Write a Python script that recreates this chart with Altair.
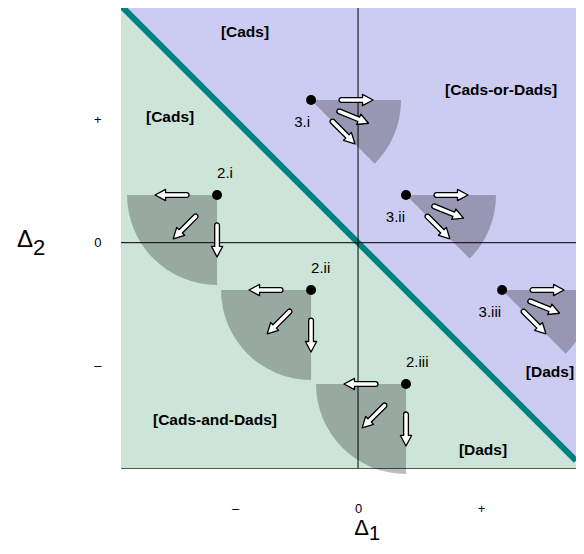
import altair as alt
import pandas as pd
import numpy as np

# ---- data (data units: tick "+" = 1) ----
x_min, x_max = -1.927, 1.772
y_min, y_max = -1.832, 1.908

tick_values = [-1, 0, 1]
tick_labels = ["–", "0", "+"]

point_labels = ["2.i", "2.ii", "2.iii", "3.i", "3.ii", "3.iii"]
point_group = ["2", "2", "2", "3", "3", "3"]
point_x = [-1.146, -0.382, 0.390, -0.382, 0.390, 1.171]
point_y = [0.388, -0.385, -1.149, 1.160, 0.388, -0.385]

# wedge angles (degrees clockwise from "up")
wedge_start = {"2": 180, "3": 90}
wedge_end = {"2": 270, "3": 135}

# arrow directions (degrees, clockwise from "right" on screen)
arrow_dirs = {"2": [180, 135, 90], "3": [0, 22, 45]}
arrow_offset = 0.366

region_labels = ["[Cads]", "[Cads]", "[Cads-or-Dads]", "[Cads-and-Dads]", "[Dads]", "[Dads]"]
region_x = [-0.919, -1.528, 1.163, -1.163, 1.560, 1.016]
region_y = [1.713, 1.022, 1.241, -1.441, -1.051, -1.685]

axis_titles = [("Δ", "1"), ("Δ", "2")]

# ---- tables ----
diag = pd.DataFrame({
    "x": [x_min, x_max],
    "diag": [-x_min, -x_max],
    "top": [y_max, y_max],
    "bottom": [y_min, y_min],
})

pts = pd.DataFrame({"label": point_labels, "group": point_group, "x": point_x, "y": point_y})
pts["t1"] = [np.deg2rad(wedge_start[g]) for g in point_group]
pts["t2"] = [np.deg2rad(wedge_end[g]) for g in point_group]

arrows = []
for lab, g, px, py in zip(point_labels, point_group, point_x, point_y):
    for a in arrow_dirs[g]:
        r = np.deg2rad(a)
        arrows.append({"x": px + arrow_offset * np.cos(r),
                       "y": py - arrow_offset * np.sin(r),
                       "ang": a})
arrows = pd.DataFrame(arrows)

regions = pd.DataFrame({"label": region_labels, "x": region_x, "y": region_y})
one = pd.DataFrame({"k": [0]})

xs = alt.Scale(domain=[x_min, x_max], nice=False, zero=False)
ys = alt.Scale(domain=[y_min, y_max], nice=False, zero=False)

label_expr = (f"datum.value < 0 ? '{tick_labels[0]}' : "
              f"(datum.value > 0 ? '{tick_labels[2]}' : '{tick_labels[1]}')")

X = alt.X("x:Q", scale=xs, title=None, axis=alt.Axis(
    values=tick_values, labelExpr=label_expr, grid=False, ticks=False, domain=False,
    labelFontSize=13, labelColor="black", labelPadding=34))
Y = alt.Y("top:Q", scale=ys, title=None, axis=alt.Axis(
    values=tick_values, labelExpr=label_expr, grid=False, ticks=False, domain=False,
    labelFontSize=13, labelColor="black", labelPadding=20))

purple = alt.Chart(diag).mark_area(color="#ccccf2", opacity=1, clip=True).encode(
    x=X, y=Y, y2="diag:Q")
green = alt.Chart(diag).mark_area(color="#cce5d8", opacity=1, clip=True).encode(
    x=alt.X("x:Q", scale=xs), y=alt.Y("diag:Q", scale=ys), y2="bottom:Q")
line = alt.Chart(diag).mark_line(color="#008080", strokeWidth=6, clip=True).encode(
    x=alt.X("x:Q", scale=xs), y=alt.Y("diag:Q", scale=ys))

vrule = alt.Chart(one).mark_rule(color="black", strokeWidth=1).encode(x=alt.datum(0))
hrule = alt.Chart(one).mark_rule(color="black", strokeWidth=1).encode(y=alt.datum(0))

wedges = alt.Chart(pts).mark_arc(radius=90, color="black", opacity=0.26).encode(
    x=alt.X("x:Q", scale=xs), y=alt.Y("y:Q", scale=ys),
    theta=alt.Theta("t1:Q", scale=None, stack=False), theta2="t2:Q")

arrow_path = ("M-0.86,-0.14 L0.38,-0.14 L0.38,-0.33 L1,0 L0.38,0.33 L0.38,0.14 "
              "L-0.86,0.14 A0.14,0.14 0 0 1 -0.86,-0.14 Z")
arrow_marks = alt.Chart(arrows).mark_point(
    shape=arrow_path, size=1156, filled=True, fill="white", stroke="black",
    strokeWidth=1.3, opacity=1, strokeJoin="round").encode(
    x=alt.X("x:Q", scale=xs), y=alt.Y("y:Q", scale=ys),
    angle=alt.Angle("ang:Q", scale=None))

dots = alt.Chart(pts).mark_circle(size=100, color="black", opacity=1).encode(
    x=alt.X("x:Q", scale=xs), y=alt.Y("y:Q", scale=ys))

lab2 = alt.Chart(pts).transform_filter(alt.datum.group == "2").mark_text(
    align="left", baseline="alphabetic", dx=0, dy=-17, fontSize=15, color="black").encode(
    x=alt.X("x:Q", scale=xs), y=alt.Y("y:Q", scale=ys), text="label:N")
lab3 = alt.Chart(pts).transform_filter(alt.datum.group == "3").mark_text(
    align="right", baseline="alphabetic", dx=-1, dy=27, fontSize=15, color="black").encode(
    x=alt.X("x:Q", scale=xs), y=alt.Y("y:Q", scale=ys), text="label:N")

region_text = alt.Chart(regions).mark_text(
    fontSize=15.5, fontWeight="bold", color="black", baseline="middle").encode(
    x=alt.X("x:Q", scale=xs), y=alt.Y("y:Q", scale=ys), text="label:N")

# axis titles (Δ with lowered digit), placed from the scales
t1_main = alt.Chart(one).mark_text(
    text=axis_titles[0][0], fontSize=22, align="right", baseline="alphabetic",
    dx=11, dy=67, color="black").encode(x=alt.datum(0), y=alt.datum(y_min))
t1_sub = alt.Chart(one).mark_text(
    text=axis_titles[0][1], fontSize=20, align="left", baseline="alphabetic",
    dx=11, dy=72, color="black").encode(x=alt.datum(0), y=alt.datum(y_min))
t2_main = alt.Chart(one).mark_text(
    text=axis_titles[1][0], fontSize=24, align="right", baseline="alphabetic",
    dx=-88, dy=4, color="black").encode(x=alt.datum(x_min), y=alt.datum(0))
t2_sub = alt.Chart(one).mark_text(
    text=axis_titles[1][1], fontSize=22, align="left", baseline="alphabetic",
    dx=-88, dy=12, color="black").encode(x=alt.datum(x_min), y=alt.datum(0))

chart = alt.layer(
    purple, green, line, vrule, hrule, wedges, arrow_marks, dots, lab2, lab3,
    region_text, t1_main, t1_sub, t2_main, t2_sub
).properties(
    width=455, height=460,
    autosize=alt.AutoSizeParams(type="none"),
    padding={"left": 113, "top": 0, "right": 0, "bottom": 77},
).configure_view(
    stroke="#555555", strokeWidth=1
).configure_text(
    font="Liberation Sans"
).configure_axis(
    labelFont="Liberation Sans", titleFont="Liberation Sans"
)

chart.save("out.html", embed_options={"renderer": "svg", "actions": False})
